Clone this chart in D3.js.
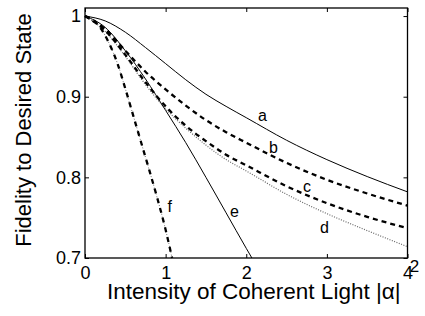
<!DOCTYPE html>
<html lang="en">
<head>
<meta charset="UTF-8">
<title>Fidelity to Desired State</title>
<script src="https://d3js.org/d3.v7.min.js"></script>
<style>
    body { margin: 0; background: #fff; }
    svg { display: block; font-family: "Liberation Sans", Arial, Helvetica, sans-serif; }
</style>
</head>
<body>
<svg id="chart" width="425" height="316"></svg>
<script>
    // values
    const xTicks = [0, 1, 2, 3, 4];
    const yTicks = [0.7, 0.8, 0.9, 1];
    const yTickLabels = ["0.7", "0.8", "0.9", "1"];

    const xMain = [0, 0.25, 0.5, 0.75, 1, 1.25, 1.5, 1.75, 2, 2.5, 3, 3.5, 4];
    const yA = [1, 0.994, 0.980, 0.961, 0.941, 0.921, 0.903, 0.888, 0.874, 0.846, 0.822, 0.801, 0.782];
    const yB = [1, 0.984, 0.957, 0.931, 0.909, 0.889, 0.871, 0.856, 0.843, 0.818, 0.797, 0.780, 0.765];
    const yC = [1, 0.982, 0.952, 0.918, 0.888, 0.864, 0.845, 0.828, 0.815, 0.789, 0.768, 0.751, 0.737];
    const yD = [1, 0.981, 0.950, 0.915, 0.885, 0.861, 0.840, 0.822, 0.808, 0.779, 0.755, 0.734, 0.714];

    const xE = [0, 0.25, 0.5, 0.75, 1, 1.25, 1.5, 1.75, 2, 2.07];
    const yE = [1, 0.986, 0.957, 0.922, 0.883, 0.843, 0.800, 0.756, 0.712, 0.700];

    const xF = [0, 0.1, 0.2, 0.3, 0.4, 0.5, 0.6, 0.7, 0.8, 0.9, 1, 1.08];
    const yF = [1, 0.995, 0.984, 0.966, 0.942, 0.910, 0.876, 0.842, 0.808, 0.773, 0.735, 0.700];

    // curve letters and where they sit (data units)
    const curveNames = ["a", "b", "c", "d", "e", "f"];
    const nameX = [2.146, 2.282, 2.704, 2.915, 1.798, 1.023];
    const nameY = [0.870, 0.830, 0.782, 0.731, 0.751, 0.757];

    const svg = d3.select("#chart");
    const margin = {left: 85, top: 8, right: 17.5, bottom: 58};
    const W = 425 - margin.left - margin.right;
    const H = 316 - margin.top - margin.bottom;

    const x = d3.scaleLinear().domain([0, 4]).range([margin.left, margin.left + W]);
    const y = d3.scaleLinear().domain([0.7, 1.01]).range([margin.top + H, margin.top]);

    const line = d3.line()
        .x(d => x(d[0]))
        .y(d => y(d[1]))
        .curve(d3.curveMonotoneX);

    const pts = (xs, ys) => xs.map((v, i) => [v, ys[i]]);

    const g = svg.append("g");

    // dotted gray d
    g.append("path").attr("d", line(pts(xMain, yD)))
        .attr("fill", "none").attr("stroke", "#666")
        .attr("stroke-width", 1.2).attr("stroke-dasharray", "1,1.5");

    // solid thin a and e
    g.append("path").attr("d", line(pts(xMain, yA)))
        .attr("fill", "none").attr("stroke", "#000").attr("stroke-width", 1);
    g.append("path").attr("d", line(pts(xE, yE)))
        .attr("fill", "none").attr("stroke", "#000").attr("stroke-width", 1);

    // thick dashed b and c
    [yB, yC].forEach(ys => {
        g.append("path").attr("d", line(pts(xMain, ys)))
            .attr("fill", "none").attr("stroke", "#000")
            .attr("stroke-width", 2.3).attr("stroke-dasharray", "5,4");
    });

    // dash-dot f: gray dots under thick black dashes
    g.append("path").attr("d", line(pts(xF, yF)))
        .attr("fill", "none").attr("stroke", "#777")
        .attr("stroke-width", 1).attr("stroke-dasharray", "1,2");
    g.append("path").attr("d", line(pts(xF, yF)))
        .attr("fill", "none").attr("stroke", "#000")
        .attr("stroke-width", 2.3).attr("stroke-dasharray", "5,5");

    // curve letters
    svg.selectAll(".name")
        .data(curveNames)
        .enter().append("text")
        .attr("class", "name")
        .attr("x", (d, i) => x(nameX[i]))
        .attr("y", (d, i) => y(nameY[i]))
        .attr("font-size", 16)
        .text(d => d);

    // axes: ticks point inward, box drawn round the plot
    const axBottom = svg.append("g")
        .attr("transform", `translate(0,${margin.top + H})`)
        .call(d3.axisBottom(x).tickValues(xTicks).tickFormat(d3.format("d"))
            .tickSizeInner(-4).tickSizeOuter(0).tickPadding(8));
    const axLeft = svg.append("g")
        .attr("transform", `translate(${margin.left},0)`)
        .call(d3.axisLeft(y).tickValues(yTicks).tickFormat((d, i) => yTickLabels[i])
            .tickSizeInner(-4).tickSizeOuter(0).tickPadding(4));
    const axTop = svg.append("g")
        .attr("transform", `translate(0,${margin.top})`)
        .call(d3.axisTop(x).tickValues(xTicks).tickFormat("")
            .tickSizeInner(-4).tickSizeOuter(0));
    const axRight = svg.append("g")
        .attr("transform", `translate(${margin.left + W},0)`)
        .call(d3.axisRight(y).tickValues(yTicks).tickFormat("")
            .tickSizeInner(-4).tickSizeOuter(0));

    [axBottom, axLeft, axTop, axRight].forEach(a => {
        a.select(".domain").remove();
        a.selectAll("line").attr("stroke", "#000");
        a.selectAll("text").attr("font-size", 18).attr("fill", "#000")
            .attr("font-family", "'Liberation Sans', Arial, sans-serif");
    });

    svg.append("rect")
        .attr("x", margin.left).attr("y", margin.top)
        .attr("width", W).attr("height", H)
        .attr("fill", "none").attr("stroke", "#000").attr("stroke-width", 1.3);

    // axis titles
    const xl = svg.append("text")
        .attr("x", 107).attr("y", 299)
        .attr("font-size", 22.5);
    xl.append("tspan").text("Intensity of Coherent Light |α|");
    xl.append("tspan").attr("dx", 9).attr("dy", -27).attr("font-size", 17).text("2");

    svg.append("text")
        .attr("transform", "rotate(-90)")
        .attr("x", -130).attr("y", 31)
        .attr("text-anchor", "middle")
        .attr("font-size", 22)
        .text("Fidelity to Desired State");
</script>
</body>
</html>
